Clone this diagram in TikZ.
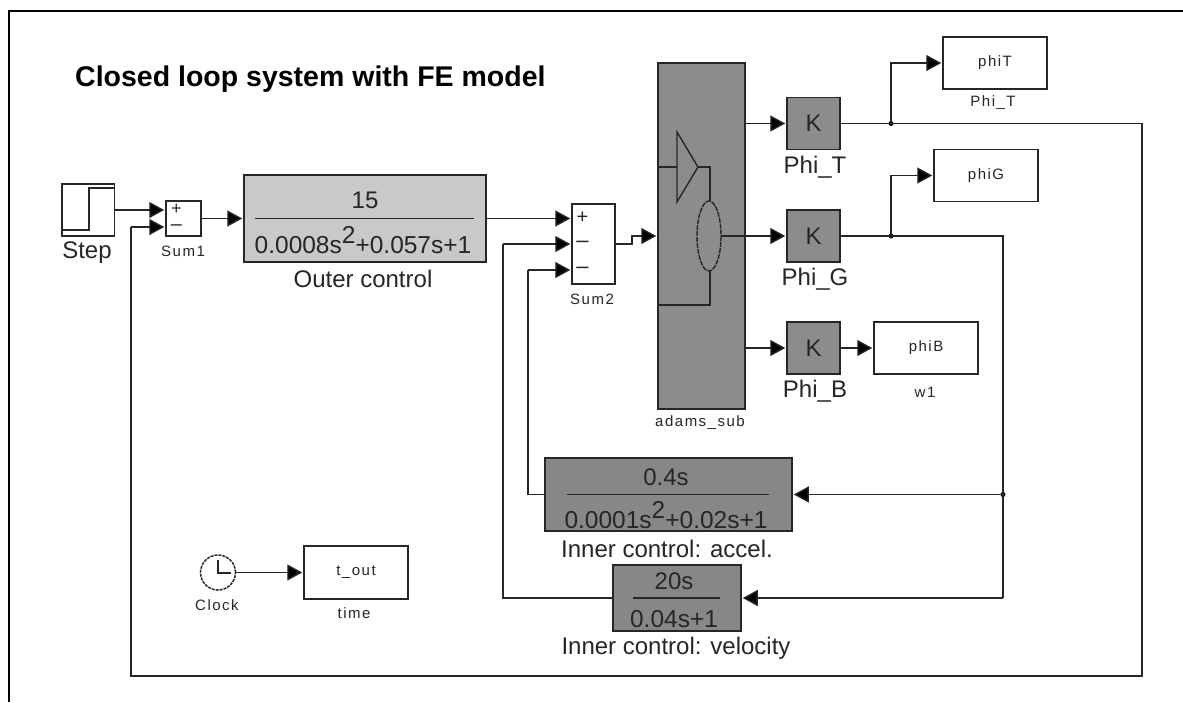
\documentclass[tikz,border=0pt]{standalone}
\usepackage{fontspec}
\setmainfont{Liberation Sans}
\newfontfamily\spaced[LetterSpace=10]{Liberation Sans}
\usetikzlibrary{arrows.meta}
\newcommand{\fs}[1]{\fontsize{#1}{#1}\selectfont}
\newcommand{\smallf}{\spaced\fontsize{15}{15}\selectfont}
\newcommand{\supr}[1]{\raisebox{0.42em}{#1}}
\tikzset{
  x=1pt,y=-1pt,
  wire/.style={line width=1.4pt,draw=black!85},
  sig/.style={wire,-{Triangle[length=15pt,width=16pt,fill=black]},shorten >=1pt},
  blk/.style={draw=black!85,line width=1.5pt,inner sep=0pt,anchor=center,fill=white,text=black!85},
  gd/.style={blk,fill=black!45},
  lt/.style={blk,fill=black!21},
  dk/.style={blk,fill=black!47},
  lab/.style={text=black!85,inner sep=0pt,anchor=center},
  jn/.style={circle,fill=black,inner sep=0pt,minimum size=5pt},
}
\begin{document}
\begin{tikzpicture}
\useasboundingbox (0,0) rectangle (1183,702);
\fill[white] (0,0) rectangle (1183,702);
% sheet frame
\coordinate (fa) at (9,702);
\coordinate (fb) at (9,11);
\coordinate (fc) at (1183,11);
\draw[line width=2.2pt,black] (fa) -- (fb) -- (fc);
\node[lab,text=black,anchor=base west,font=\fs{28.5}] (title) at (75,86) {\textbf{Closed loop system with FE model}};
% blocks
\node[blk,minimum width=52.5pt,minimum height=52pt] (step) at (88.25,210) {};
\node[blk,minimum width=35pt,minimum height=35pt] (sum1) at (183.5,218.5) {};
\node[lt,minimum width=242pt,minimum height=87pt] (outer) at (365,218.5) {};
\node[blk,minimum width=43pt,minimum height=80pt] (sum2) at (593.5,244) {};
\node[gd,minimum width=87pt,minimum height=346pt] (adams) at (701.5,236) {};
\node[gd,minimum width=53pt,minimum height=52pt,font=\fs{24}] (kt) at (813.5,123.5) {K};
\node[gd,minimum width=53pt,minimum height=52pt,font=\fs{24}] (kg) at (813.5,236) {K};
\node[gd,minimum width=53pt,minimum height=52pt,font=\fs{24}] (kb) at (813.5,348) {K};
\node[blk,minimum width=104pt,minimum height=52pt,font=\smallf] (phit) at (995,63) {phiT};
\node[blk,minimum width=104pt,minimum height=52pt,font=\smallf] (phig) at (986,175.5) {phiG};
\node[blk,minimum width=104pt,minimum height=52pt,font=\smallf] (phib) at (926,348) {phiB};
\node[dk,minimum width=247pt,minimum height=73pt] (acc) at (668.5,494.5) {};
\node[dk,minimum width=128pt,minimum height=66pt] (vel) at (677,598) {};
\node[blk,circle,dash pattern=on 3pt off 1pt,minimum size=35pt] (clock) at (218,572.5) {};
\node[blk,minimum width=104pt,minimum height=53pt,font=\smallf] (tout) at (356,572.5) {t\_out};
% step icon
\coordinate (sa) at (63,230);
\coordinate (sb) at (89,230);
\coordinate (sc) at (89,188);
\coordinate (sd) at (114,188);
\draw[wire] (sa) -- (sb) -- (sc) -- (sd);
% sum signs
\node[lab,font=\fs{18}] (s1p) at (176.5,209) {+};
\node[lab,font=\fs{20}] (s1m) at (176.5,228) {--};
\node[lab,font=\fs{20}] (s2p) at (582.5,218) {+};
\node[lab,font=\fs{22}] (s2m) at (582.5,244) {--};
\node[lab,font=\fs{22}] (s2n) at (582.5,270) {--};
% transfer functions
\node[lab,font=\fs{24}] (n1) at (365,200) {15};
\node[lab,font=\fs{24.5}] (d1) at (363,240) {0.0008s\supr{2}+0.057s+1};
\coordinate (f1a) at (255,218.5);
\coordinate (f1b) at (474,218.5);
\draw[wire] (f1a) -- (f1b);
\node[lab,font=\fs{24}] (n2) at (666,477) {0.4s};
\node[lab,font=\fs{24.5}] (d2) at (666,515) {0.0001s\supr{2}+0.02s+1};
\coordinate (f2a) at (567,494.5);
\coordinate (f2b) at (769,494.5);
\draw[wire] (f2a) -- (f2b);
\node[lab,font=\fs{24}] (n3) at (674,581) {20s};
\node[lab,font=\fs{24.5}] (d3) at (674,619) {0.04s+1};
\coordinate (f3a) at (633,598);
\coordinate (f3b) at (720,598);
\draw[wire] (f3a) -- (f3b);
% labels
\node[lab,font=\fs{24}] (lstep) at (87,253) {Step};
\node[lab,font=\smallf] (lsum1) at (183,251) {Sum1};
\node[lab,font=\fs{24}] (louter) at (363,279) {Outer control};
\node[lab,font=\smallf] (lsum2) at (592,299) {Sum2};
\node[lab,font=\smallf] (ladams) at (700,423) {adams\_sub};
\node[lab,font=\fs{24}] (lkt) at (815,167) {Phi\_T};
\node[lab,font=\fs{24}] (lkg) at (815,279) {Phi\_G};
\node[lab,font=\fs{24}] (lkb) at (815,391) {Phi\_B};
\node[lab,font=\smallf] (lpt) at (993,103) {Phi\_T};
\node[lab,font=\smallf] (lpb) at (925,392) {w1};
\node[lab,font=\fs{24}] (lacc) at (667,549) {Inner control: accel.};
\node[lab,font=\fs{24}] (lvel) at (676,648) {Inner control: velocity};
\node[lab,font=\smallf] (lclock) at (217,605) {Clock};
\node[lab,font=\smallf] (ltime) at (354,613) {time};
% adams icon
\coordinate (ta) at (677,132);
\coordinate (tb) at (698,167);
\coordinate (tc) at (677,202);
\coordinate (i1) at (659,167);
\coordinate (i2) at (677,167);
\coordinate (i3) at (710,167);
\draw[wire] (ta) -- (tb) -- (tc) -- cycle;
\coordinate (e0) at (709,236);
\coordinate (et) at (710,201);
\coordinate (eb) at (710,271);
\coordinate (er) at (721,236);
\coordinate (i4) at (710,305);
\coordinate (i5) at (659,305);
\draw[wire,dash pattern=on 5pt off 1pt] (e0) ellipse [x radius=12, y radius=35];
\draw[wire] (i1) -- (i2);
\draw[wire] (tb) -- (i3) -- (et);
\draw[wire] (eb) -- (i4) -- (i5);
\draw[wire] (er) -- (adams.east |- er);
% clock hands
\coordinate (ch1) at (218,560);
\coordinate (ch2) at (218,573);
\coordinate (ch3) at (231,573);
\draw[wire] (ch1) -- (ch2) -- (ch3);
% connectors
\path (sum1.west) ++(0,-8.5) coordinate (p11) ++(0,17) coordinate (p12);
\path (sum2.west) ++(0,-25.5) coordinate (p21) ++(0,25.5) coordinate (p22) ++(0,26) coordinate (p23);
\draw[sig] (step.east) -- (p11);
\draw[sig] (sum1.east) -- (outer.west);
\draw[sig] (outer.east) -- (p21);
\coordinate (jog1) at (632,244);
\coordinate (jog2) at (632,236);
\draw[sig] (sum2.east) -- (jog1) -- (jog2) -- (adams.west);
\draw[sig] (adams.east |- kt.west) -- (kt.west);
\draw[sig] (adams.east) -- (kg.west);
\draw[sig] (adams.east |- kb.west) -- (kb.west);
\draw[sig] (kb.east) -- (phib.west);
\draw[sig] (clock.east) -- (tout.west);
% phi T branch and outer feedback
\node[jn] (jt) at (891,123.5) {};
\node[jn] (jg) at (891,236) {};
\node[jn] (ja) at (1003,494.5) {};
\coordinate (c1) at (1142,123.5);
\coordinate (c2) at (1142,676);
\coordinate (c3) at (131,676);
\draw[wire] (kt.east) -- (c1) -- (c2) -- (c3) -- (c3 |- p12);
\draw[sig] (c3 |- p12) -- (p12);
\draw[sig] (jt.center) |- (phit.west);
\draw[sig] (jg.center) |- (phig.west);
% phi G branch
\coordinate (g1) at (1003,236);
\coordinate (g2) at (1003,598);
\draw[wire] (kg.east) -- (g1) -- (g2);
\draw[sig] (g2) -- (vel.east);
\draw[sig] (ja.center) -- (acc.east);
% inner feedback
\coordinate (a1) at (528,494.5);
\draw[wire] (acc.west) -- (a1) -- (a1 |- p23);
\draw[sig] (a1 |- p23) -- (p23);
\coordinate (v1) at (503,598);
\draw[wire] (vel.west) -- (v1) -- (v1 |- p22);
\draw[sig] (v1 |- p22) -- (p22);
\end{tikzpicture}
\end{document}
